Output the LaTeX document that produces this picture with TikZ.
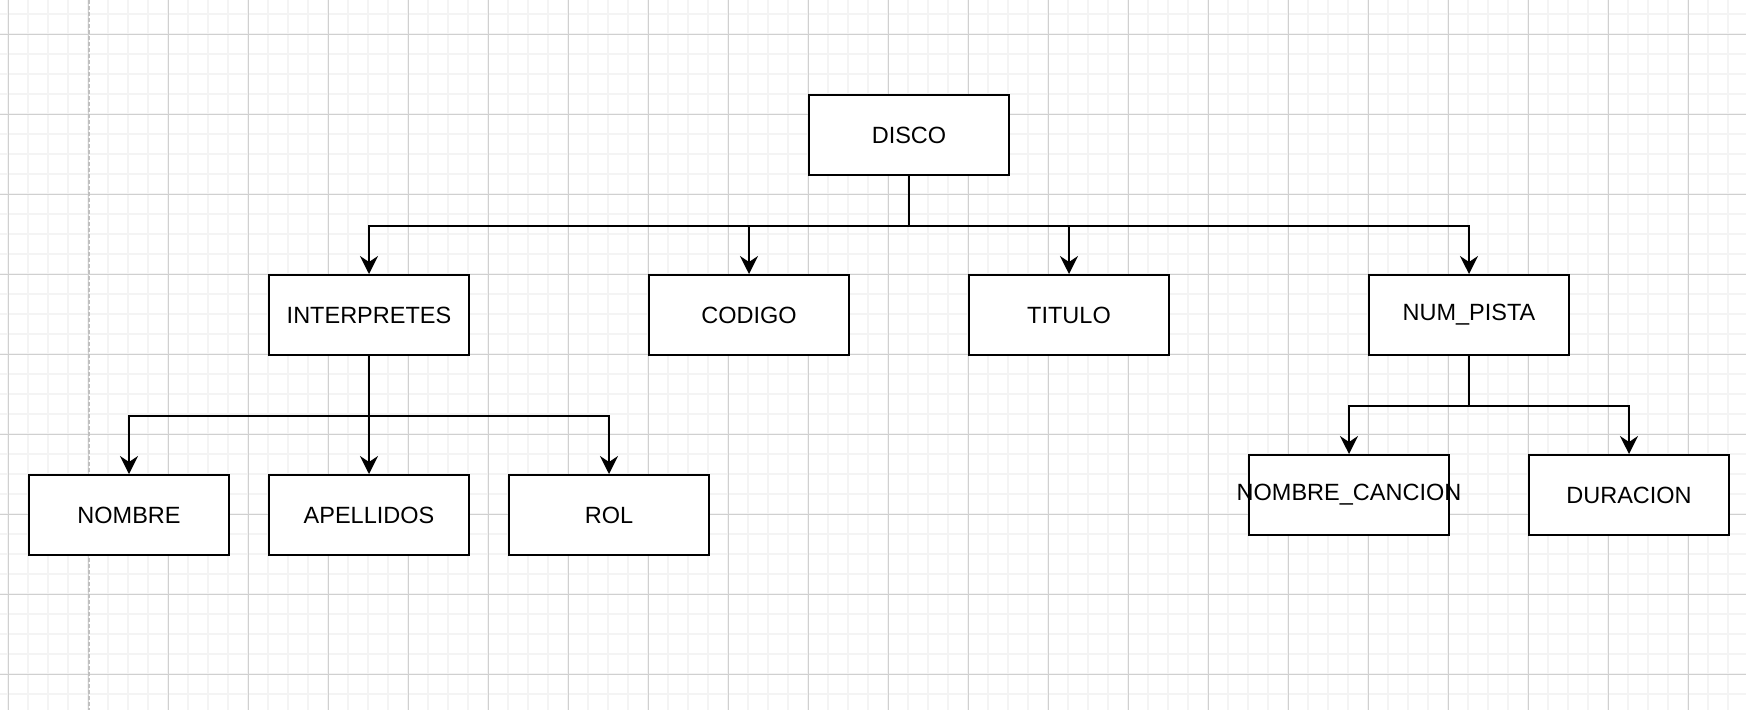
\documentclass[tikz,border=0pt]{standalone}
\usepackage{fontspec}
\setmainfont{Liberation Sans}
\usetikzlibrary{arrows.meta}

\definecolor{gridmajor}{HTML}{D0D0D0}
\definecolor{gridminor}{HTML}{F4F4F4}
\definecolor{pageline}{HTML}{C0C0C0}

\begin{document}
\begin{tikzpicture}[x=1pt,y=-1pt,
  box/.style={draw,line width=2pt,fill=white,minimum width=200pt,minimum height=80pt,inner sep=0pt,font=\fontsize{23.5}{28}\selectfont},
  link/.style={line width=2pt},
  arr/.style={line width=2pt,-{Stealth[length=18pt,width=18pt,inset=6pt]}}]
% background and grid
\fill[white] (0,0) rectangle (1746,710);
\useasboundingbox (0,0) rectangle (1746,710);
\foreach \x in {8,28,...,1748} \draw[gridminor,line width=1.5pt] (\x,0) -- (\x,710);
\foreach \y in {14,34,...,714} \draw[gridminor,line width=1.5pt] (0,\y) -- (1746,\y);
\foreach \x in {8,88,...,1748} \draw[gridmajor,line width=1pt] (\x,0) -- (\x,710);
\foreach \y in {34,114,...,714} \draw[gridmajor,line width=1pt] (0,\y) -- (1746,\y);
\draw[pageline,line width=1.5pt,dash pattern=on 4pt off 2pt] (89,0) -- (89,710);
% level 1
\node[box] (disco) at (909,135) {DISCO};
% level 2
\node[box] (interp) at (369,315) {INTERPRETES};
\node[box] (codigo) at (749,315) {CODIGO};
\node[box] (titulo) at (1069,315) {TITULO};
\node[box] (pista) at (1469,315) {NUM\_PISTA};
% level 3
\node[box] (nombre) at (129,515) {NOMBRE};
\node[box] (apell) at (369,515) {APELLIDOS};
\node[box] (rol) at (609,515) {ROL};
\node[box] (cancion) at (1349,495) {\makebox[0pt][c]{NOMBRE\_CANCION}};
\node[box] (durac) at (1629,495) {DURACION};
% connectors
\draw[link] (disco.south) -- ++(0,50) coordinate (busA);
\draw[arr] (busA) -| (interp.north);
\draw[arr] (busA) -| (codigo.north);
\draw[arr] (busA) -| (titulo.north);
\draw[arr] (busA) -| (pista.north);
\draw[link] (interp.south) -- ++(0,60) coordinate (busB);
\draw[arr] (busB) -| (nombre.north);
\draw[arr] (busB) -- (apell.north);
\draw[arr] (busB) -| (rol.north);
\draw[link] (pista.south) -- ++(0,50) coordinate (busC);
\draw[arr] (busC) -| (cancion.north);
\draw[arr] (busC) -| (durac.north);
\end{tikzpicture}
\end{document}
